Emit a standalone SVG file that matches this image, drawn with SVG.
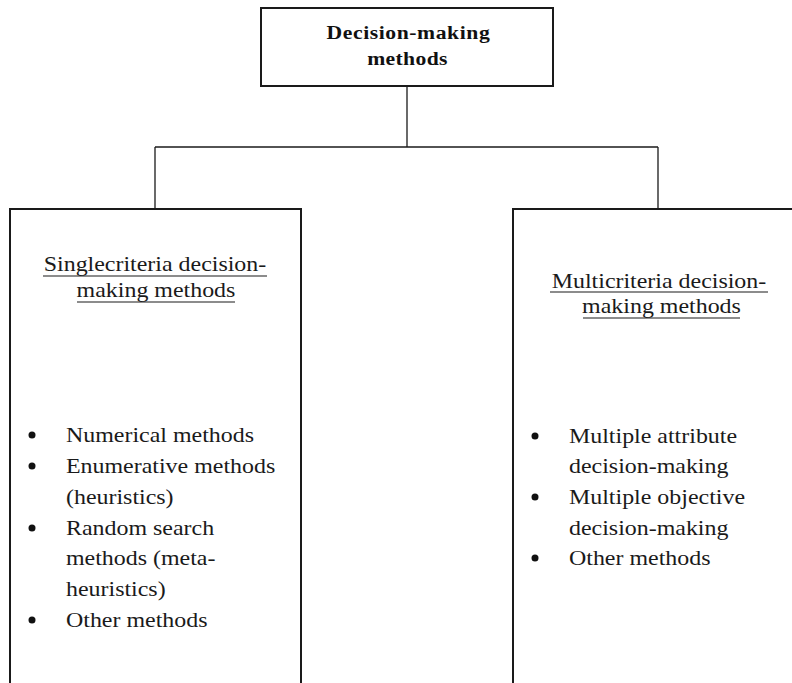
<svg xmlns="http://www.w3.org/2000/svg" width="792" height="683" viewBox="0 0 792 683">
<style>
.box{fill:#fff;stroke:#1a1a1a;stroke-width:2}
.con{stroke:#1a1a1a;stroke-width:1.3;fill:none}
.ul{stroke:#1a1a1a;stroke-width:1.2}
.dot{fill:#111}
</style>
<rect width="792" height="683" fill="#fff"/>
<g id="connectors">
<line class="con" x1="407" y1="86" x2="407" y2="147"/>
<line class="con" x1="155" y1="147" x2="658" y2="147"/>
<line class="con" x1="155" y1="147" x2="155" y2="209"/>
<line class="con" x1="658" y1="147" x2="658" y2="209"/>
</g>
<g id="root">
<rect class="box" x="261" y="8" width="292" height="78"/>
<g transform="scale(1.14,1)" font-family="Liberation Serif" font-size="19" font-weight="bold" fill="#111" text-anchor="middle">
<text x="358.3" y="39" letter-spacing="0.5">Decision-making</text>
<text x="357.5" y="65" letter-spacing="0.3">methods</text>
</g>
</g>
<g id="single">
<rect class="box" x="10" y="209" width="291" height="490"/>
<line class="ul" x1="43" y1="276" x2="267" y2="276"/>
<line class="ul" x1="77" y1="302" x2="235" y2="302"/>
<circle class="dot" cx="32" cy="435" r="3.5"/>
<circle class="dot" cx="32" cy="466" r="3.5"/>
<circle class="dot" cx="32" cy="528" r="3.5"/>
<circle class="dot" cx="32" cy="620" r="3.5"/>
<g transform="scale(1.14,1)" font-family="Liberation Serif" font-size="21" fill="#1a1a1a">
<text x="135.96" y="271" text-anchor="middle">Singlecriteria decision-</text>
<text x="136.84" y="297" text-anchor="middle">making methods</text>
<text x="57.89" y="442">Numerical methods</text>
<text x="57.89" y="473">Enumerative methods</text>
<text x="57.89" y="504">(heuristics)</text>
<text x="57.89" y="535">Random search</text>
<text x="57.89" y="565">methods (meta-</text>
<text x="57.89" y="596">heuristics)</text>
<text x="57.89" y="627">Other methods</text>
</g>
</g>
<g id="multi">
<rect class="box" x="513" y="209" width="300" height="490"/>
<line class="ul" x1="550" y1="292" x2="768" y2="292"/>
<line class="ul" x1="583" y1="318" x2="740" y2="318"/>
<circle class="dot" cx="535" cy="436" r="3.5"/>
<circle class="dot" cx="535" cy="497" r="3.5"/>
<circle class="dot" cx="535" cy="558" r="3.5"/>
<g transform="scale(1.14,1)" font-family="Liberation Serif" font-size="21" fill="#1a1a1a">
<text x="578.07" y="288" text-anchor="middle">Multicriteria decision-</text>
<text x="580.26" y="313" text-anchor="middle">making methods</text>
<text x="499.12" y="443">Multiple attribute</text>
<text x="499.12" y="473">decision-making</text>
<text x="499.12" y="504">Multiple objective</text>
<text x="499.12" y="535">decision-making</text>
<text x="499.12" y="565">Other methods</text>
</g>
</g>
</svg>
